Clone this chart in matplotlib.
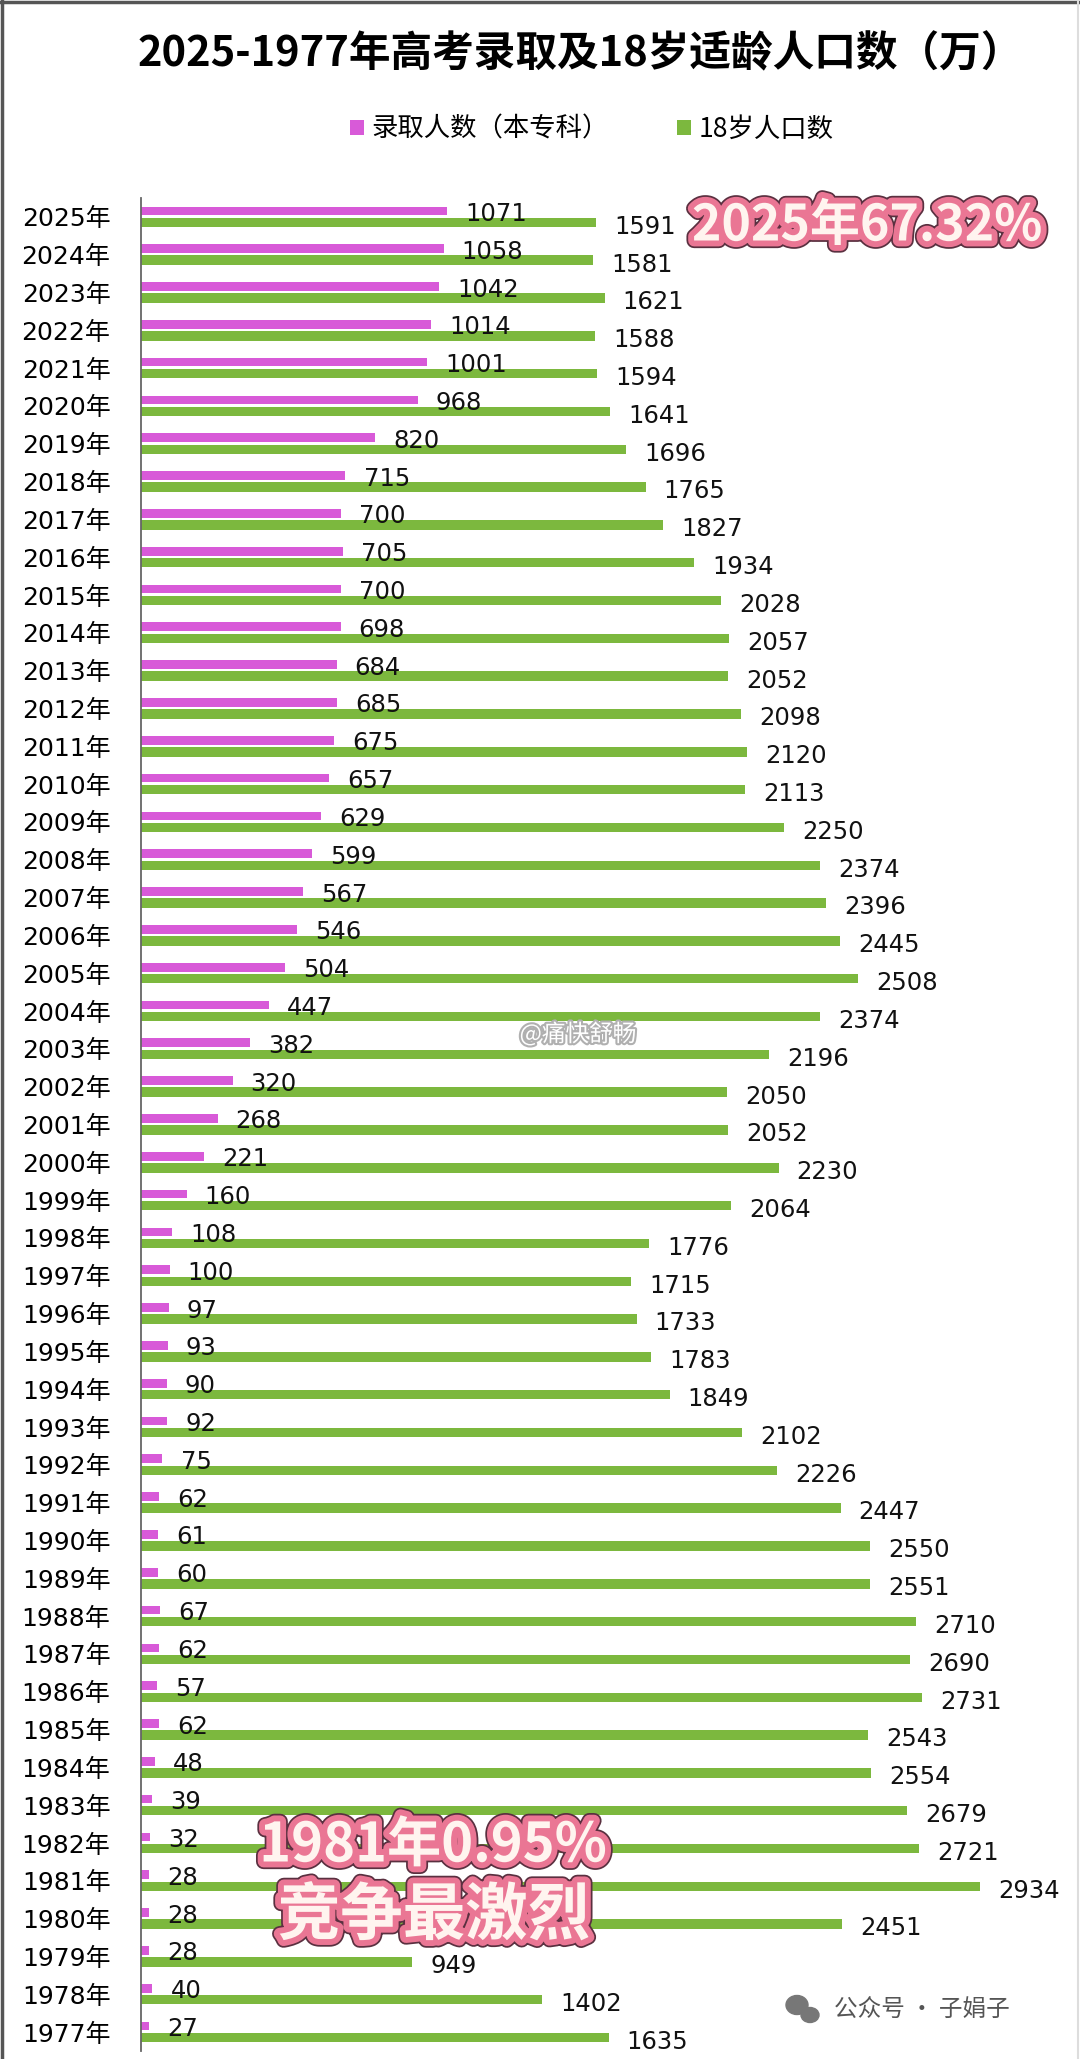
import numpy as np
import matplotlib
matplotlib.use('Agg')
import matplotlib.pyplot as plt
import matplotlib.patheffects as pe
from matplotlib.lines import Line2D
from matplotlib.patches import Ellipse

# 数据（万人），从 2025 年到 1977 年
years = [f'{y}年' for y in range(2025, 1976, -1)]
luqu = [1071, 1058, 1042, 1014, 1001, 968, 820, 715, 700, 705, 700, 698, 684, 685,
        675, 657, 629, 599, 567, 546, 504, 447, 382, 320, 268, 221, 160, 108, 100,
        97, 93, 90, 92, 75, 62, 61, 60, 67, 62, 57, 62, 48, 39, 32, 28, 28, 28, 40, 27]
renkou = [1591, 1581, 1621, 1588, 1594, 1641, 1696, 1765, 1827, 1934, 2028, 2057,
          2052, 2098, 2120, 2113, 2250, 2374, 2396, 2445, 2508, 2374, 2196, 2050,
          2052, 2230, 2064, 1776, 1715, 1733, 1783, 1849, 2102, 2226, 2447, 2550,
          2551, 2710, 2690, 2731, 2543, 2554, 2679, 2721, 2934, 2451, 949, 1402, 1635]

W, H = 1080, 2059
cjk = ['Noto Sans CJK SC', 'DejaVu Sans']
num = ['DejaVu Sans', 'Noto Sans CJK SC']
purple = '#d85ad8'
green = '#7cb83e'

fig = plt.figure(figsize=(W / 100, H / 100), dpi=100)
fig.patch.set_facecolor('white')

# 坐标轴区域
ax = fig.add_axes([141 / W, 8 / H, 915 / W, 1853 / H])
y = np.arange(len(years))
b1 = ax.barh(y - 0.16, luqu, height=0.23, color=purple, label='录取人数（本专科）')
b2 = ax.barh(y + 0.145, renkou, height=0.25, color=green, label='18岁人口数')

for i in range(len(years)):
    ax.annotate(str(luqu[i]), (luqu[i], y[i] - 0.08), xytext=(13, 0),
                textcoords='offset points', va='center', ha='left',
                fontsize=17.5, family=num, color='#111111')
    ax.annotate(str(renkou[i]), (renkou[i], y[i] + 0.26), xytext=(13, 0),
                textcoords='offset points', va='center', ha='left',
                fontsize=17.5, family=num, color='#111111')

ax.set_xlim(0, 3200)
ax.set_ylim(len(years) - 0.5, -0.5)
ax.set_yticks(y)
ax.set_yticklabels(years, fontsize=18, family=num)
ax.tick_params(axis='y', length=0, pad=22)
ax.set_xticks([])
for s in ['top', 'right', 'bottom']:
    ax.spines[s].set_visible(False)
ax.spines['left'].set_color('#666666')
ax.spines['left'].set_linewidth(1.3)

# 标题与图例
fig.text(580 / W, 1 - 54 / H, '2025-1977年高考录取及18岁适龄人口数（万）',
         ha='center', va='center', fontsize=30, fontweight='bold', family=cjk)
fig.legend(handles=[b1, b2], loc='center', bbox_to_anchor=(592 / W, 1 - 129 / H),
           ncol=2, frameon=False, prop={'family': cjk, 'size': 19},
           handlelength=0.5, handleheight=0.5, handletextpad=0.3,
           columnspacing=2.6)

# 粉色标注
effects = [pe.Stroke(linewidth=11, foreground='#5a3040'),
           pe.Stroke(linewidth=8.5, foreground='#ea7694'), pe.Normal()]
for txt, cx, cy, fs in [('2025年67.32%', 867, 226, 36),
                        ('1981年0.95%', 433, 1846, 39),
                        ('竞争最激烈', 434, 1916, 45)]:
    fig.text(cx / W, 1 - cy / H, txt, ha='center', va='center', fontsize=fs,
             fontweight='heavy', family=cjk, color='#fff4ef', path_effects=effects)

# 水印
fig.text(578 / W, 1 - 1034 / H, '@痛快舒畅', ha='center', va='center', fontsize=17,
         family=cjk, color='white',
         path_effects=[pe.Stroke(linewidth=3, foreground='#b0b0b0'), pe.Normal()])
fig.text(922 / W, 1 - 2010 / H, '公众号 · 子娟子', ha='center', va='center',
         fontsize=17, family=cjk, color='#555555')
fig.add_artist(Ellipse((797 / W, 1 - 2005 / H), 22 / W, 19 / H, color='#777777',
                       transform=fig.transFigure))
fig.add_artist(Ellipse((810 / W, 1 - 2015 / H), 18 / W, 15 / H, color='#777777',
                       transform=fig.transFigure))

# 图片边框
fig.add_artist(Line2D([2 / W, 2 / W], [0, 1], color='#555555', lw=2.5))
fig.add_artist(Line2D([0, 1], [1 - 2 / H, 1 - 2 / H], color='#555555', lw=2.5))
fig.add_artist(Line2D([1 - 2 / W, 1 - 2 / W], [0, 1], color='#dddddd', lw=1.5))

fig.savefig('out.png', dpi=100, facecolor='white')
